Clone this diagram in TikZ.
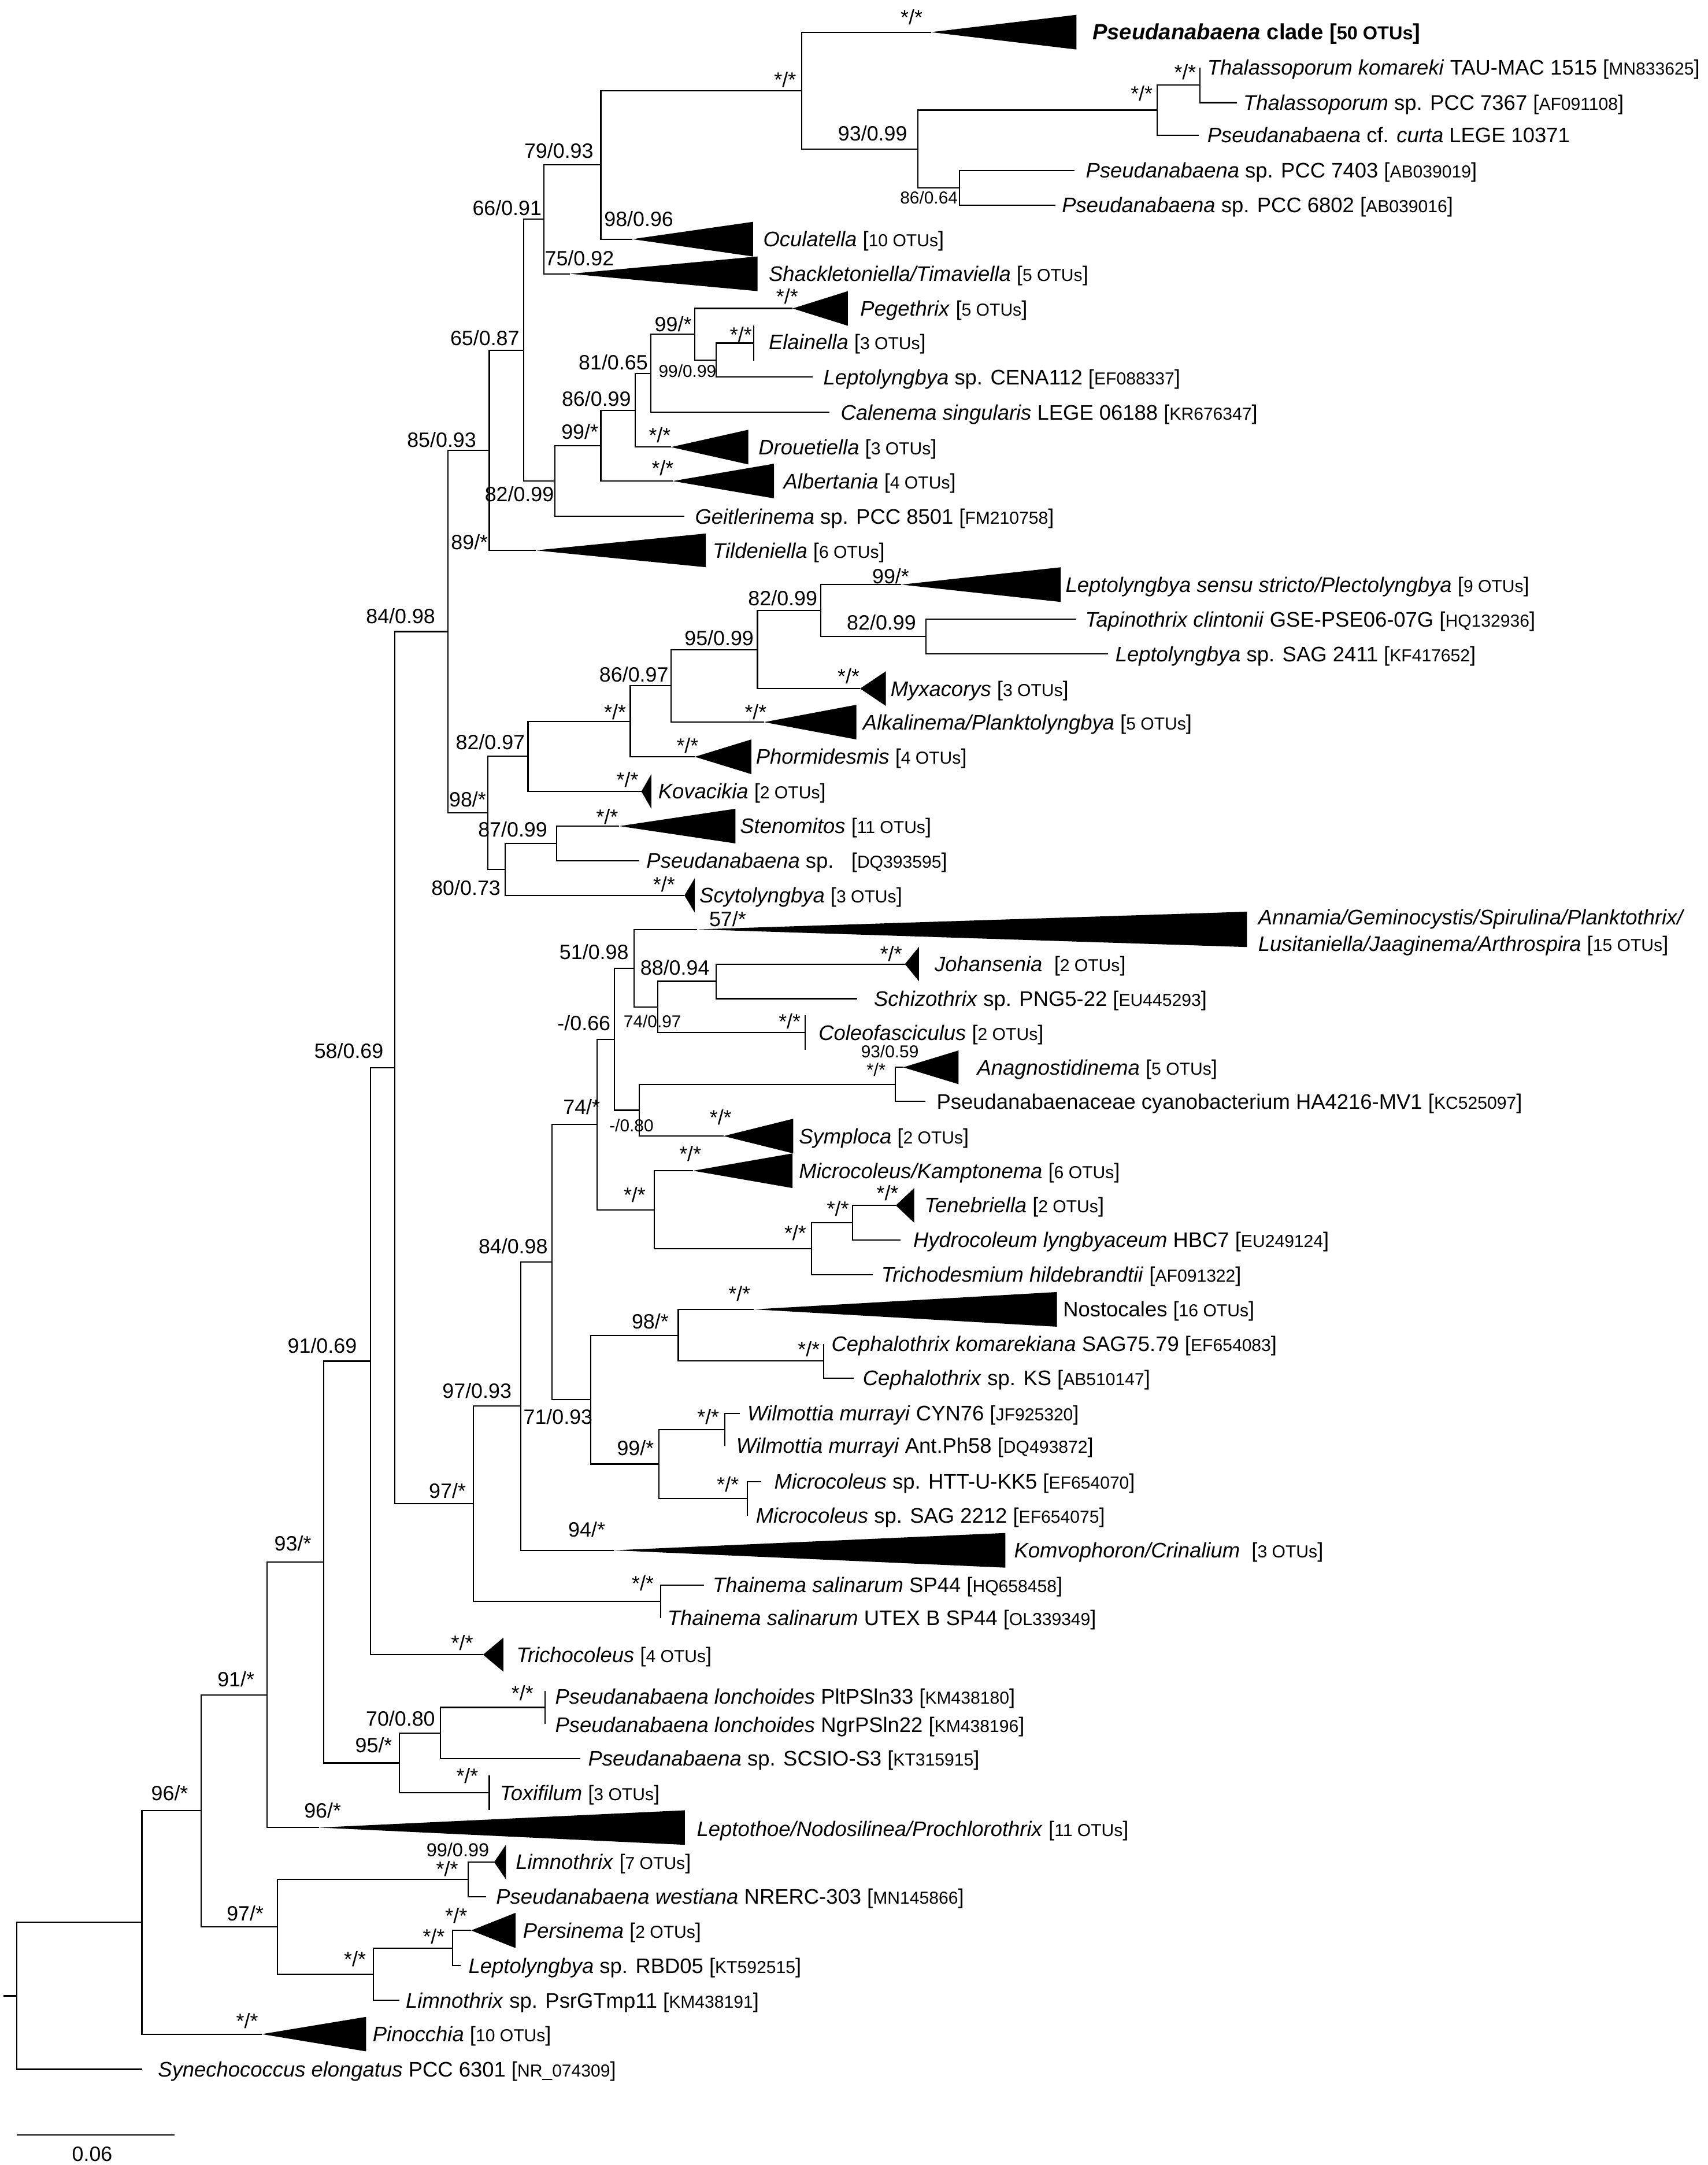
\documentclass[tikz,border=0pt]{standalone}
\usepackage{fontspec}
\setmainfont{Liberation Sans}
\newcommand{\accn}[1]{{\fontsize{12.6}{14}\selectfont #1}}
\newcommand{\cladetri}[4]{\fill[cfill] (#1) -- (#2,#3-#4) -- (#2,#3+#4) -- cycle;}
\newcommand{\twokids}[3]{\draw[br] (#1) |- (#2) (#1) |- (#3);}
\tikzset{
  br/.style={line width=0.9pt},
  cfill/.style={fill=black},
  leaflab/.style={anchor=base west, inner sep=0pt, yshift=-5.4pt, font=\fontsize{15.25}{18}\selectfont},
  bs/.style={inner sep=0pt, font=\fontsize{15}{18}\selectfont},
  bss/.style={inner sep=0pt, font=\fontsize{12.5}{15}\selectfont},
  ast/.style={inner sep=0pt, font=\fontsize{15}{16}\selectfont},
}
\begin{document}
\begin{tikzpicture}[x=1pt,y=-1pt]
\useasboundingbox (0,0) rectangle (1237,1568);
% ---------- leaves ----------
\coordinate (pseudClade) at (674.3,23.3);
\coordinate (thalKom) at (869.2,48.9);
\coordinate (thalSp) at (896,74.3);
\coordinate (curta) at (868.4,97.9);
\coordinate (pcc7403) at (778.4,123.5);
\coordinate (pcc6802) at (764.5,148.6);
\coordinate (oculatella) at (457.9,173.2);
\coordinate (shackleton) at (413,198.3);
\coordinate (pegethrix) at (574.1,223.4);
\coordinate (elainella) at (546,248.5);
\coordinate (cena) at (588.8,273.1);
\coordinate (calenema) at (600.8,298.7);
\coordinate (drouetiella) at (486,323.8);
\coordinate (albertania) at (487.3,348.4);
\coordinate (geitler) at (495.8,374);
\coordinate (tildeniella) at (388,398.6);
\coordinate (leptoSS) at (652.9,423.4);
\coordinate (tapino) at (779.7,448.5);
\coordinate (sag2411) at (802.5,473.6);
\coordinate (myxa) at (623,498.7);
\coordinate (alkali) at (553.5,523);
\coordinate (phormi) at (503.3,548.1);
\coordinate (kovac) at (464.6,573.2);
\coordinate (steno) at (448.6,598.3);
\coordinate (pseudDQ) at (463.2,623.4);
\coordinate (scyto) at (495.8,648.5);
\coordinate (annamia) at (505,673.1);
\coordinate (johan) at (655.5,698.2);
\coordinate (schizo) at (620.8,723.3);
\coordinate (coleo) at (583.4,747.9);
\coordinate (anagno) at (654.2,773);
\coordinate (haMV) at (670.3,797.7);
\coordinate (symplo) at (524.1,822.8);
\coordinate (microK) at (502,847.9);
\coordinate (tenebr) at (648.9,873);
\coordinate (hydro) at (652.3,898.1);
\coordinate (tricho) at (632.1,923.2);
\coordinate (nosto) at (546,948.3);
\coordinate (cephK) at (596.8,973.4);
\coordinate (cephS) at (618.2,998);
\coordinate (wilC) at (535.9,1023.6);
\coordinate (wilA) at (525.2,1047);
\coordinate (micH) at (551.4,1073.1);
\coordinate (micS) at (541.2,1097.7);
\coordinate (komvo) at (444.5,1122.8);
\coordinate (thaS) at (510,1147.9);
\coordinate (thaU) at (478.7,1171.7);
\coordinate (trichoc) at (349.9,1198.4);
\coordinate (lonP) at (394.8,1224.7);
\coordinate (lonN) at (394.8,1248.5);
\coordinate (scsio) at (420.5,1273.5);
\coordinate (toxi) at (354.4,1298.5);
\coordinate (leptot) at (231,1323.6);
\coordinate (limno) at (357.9,1348.6);
\coordinate (westi) at (352,1373.6);
\coordinate (persi) at (341.3,1398.1);
\coordinate (rbd) at (333.9,1423.6);
\coordinate (psrGT) at (289.3,1448.7);
\coordinate (pinoc) at (189.6,1473.2);
\coordinate (synec) at (102.8,1498.7);
% ---------- internal nodes ----------
\coordinate (nThal) at (869.2,61.6);
\coordinate (n838) at (838.1,79.75);
\coordinate (n86a) at (695.1,136.05);
\coordinate (n93) at (664.9,107.9);
\coordinate (nTop) at (580.8,65.6);
\coordinate (nB) at (435.2,119.4);
\coordinate (n79) at (394,158.85);
\coordinate (nEla) at (518.8,260.8);
\coordinate (nPeg) at (503.3,242.1);
\coordinate (n81) at (471.3,270.4);
\coordinate (n86b) at (460,297.1);
\coordinate (n99b) at (435.2,322.75);
\coordinate (n82a) at (402,348.4);
\coordinate (n66) at (379.3,253.6);
\coordinate (n65) at (354.4,326.1);
\coordinate (nTap) at (670.8,461.05);
\coordinate (n82b) at (594.7,442.2);
\coordinate (n95) at (548.7,470.45);
\coordinate (n86c) at (486,496.7);
\coordinate (nSS) at (456.6,522.4);
\coordinate (n82c) at (382.5,547.8);
\coordinate (n87) at (403.3,610.85);
\coordinate (n80) at (365.9,629.7);
\coordinate (n98a) at (353.4,588.75);
\coordinate (n85) at (324.5,457.4);
\coordinate (nJoh) at (518.8,710.75);
\coordinate (n74b) at (476.6,729.3);
\coordinate (n51) at (459.2,701.2);
\coordinate (n93b) at (648.6,785.35);
\coordinate (n080) at (463.2,804.1);
\coordinate (n066) at (445.1,752.65);
\coordinate (nTen) at (617.6,885.55);
\coordinate (nTri) at (588,904.4);
\coordinate (nMK) at (473.9,876.15);
\coordinate (n74a) at (432.5,814.4);
\coordinate (nCeph) at (596.8,985.7);
\coordinate (n98b) at (491.3,967);
\coordinate (nWil) at (525.2,1035.3);
\coordinate (nMic) at (541.2,1085.4);
\coordinate (n99c) at (477.4,1060.35);
\coordinate (n71) at (428,1013.7);
\coordinate (n84b) at (399.8,914.05);
\coordinate (n97a) at (377.4,1018.4);
\coordinate (nTha) at (478.7,1159.8);
\coordinate (n97b) at (342.9,1089.1);
\coordinate (n84a) at (285.8,773.25);
\coordinate (n58) at (268.4,985.8);
\coordinate (nLon) at (394.8,1236.6);
\coordinate (n70) at (319.2,1255.05);
\coordinate (n95b) at (289.3,1276.8);
\coordinate (n91a) at (234.5,1131.3);
\coordinate (n93c) at (193.4,1227.45);
\coordinate (nLim) at (339.2,1361.1);
\coordinate (nPers) at (328,1410.85);
\coordinate (nPL) at (270.6,1429.8);
\coordinate (n97c) at (200.9,1395.45);
\coordinate (n91b) at (145.6,1311.45);
\coordinate (n96) at (102.8,1392.3);
\coordinate (root) at (12,1445.5);
\coordinate (stub) at (2.7,1445.5);
% ---------- branches ----------
\twokids{nThal}{thalKom}{thalSp}
\twokids{n838}{nThal}{curta}
\twokids{n86a}{pcc7403}{pcc6802}
\twokids{n93}{n838}{n86a}
\twokids{nTop}{pseudClade}{n93}
\twokids{nB}{nTop}{oculatella}
\twokids{n79}{nB}{shackleton}
\twokids{nEla}{elainella}{cena}
\twokids{nPeg}{pegethrix}{nEla}
\twokids{n81}{nPeg}{calenema}
\twokids{n86b}{n81}{drouetiella}
\twokids{n99b}{n86b}{albertania}
\twokids{n82a}{n99b}{geitler}
\twokids{n66}{n79}{n82a}
\twokids{n65}{n66}{tildeniella}
\twokids{nTap}{tapino}{sag2411}
\twokids{n82b}{leptoSS}{nTap}
\twokids{n95}{n82b}{myxa}
\twokids{n86c}{n95}{alkali}
\twokids{nSS}{n86c}{phormi}
\twokids{n82c}{nSS}{kovac}
\twokids{n87}{steno}{pseudDQ}
\twokids{n80}{n87}{scyto}
\twokids{n98a}{n82c}{n80}
\twokids{n85}{n65}{n98a}
\twokids{nJoh}{johan}{schizo}
\twokids{n74b}{nJoh}{coleo}
\twokids{n51}{annamia}{n74b}
\twokids{n93b}{anagno}{haMV}
\twokids{n080}{n93b}{symplo}
\twokids{n066}{n51}{n080}
\twokids{nTen}{tenebr}{hydro}
\twokids{nTri}{nTen}{tricho}
\twokids{nMK}{microK}{nTri}
\twokids{n74a}{n066}{nMK}
\twokids{nCeph}{cephK}{cephS}
\twokids{n98b}{nosto}{nCeph}
\twokids{nWil}{wilC}{wilA}
\twokids{nMic}{micH}{micS}
\twokids{n99c}{nWil}{nMic}
\twokids{n71}{n98b}{n99c}
\twokids{n84b}{n74a}{n71}
\twokids{n97a}{n84b}{komvo}
\twokids{nTha}{thaS}{thaU}
\twokids{n97b}{n97a}{nTha}
\twokids{n84a}{n85}{n97b}
\twokids{n58}{n84a}{trichoc}
\twokids{nLon}{lonP}{lonN}
\twokids{n70}{nLon}{scsio}
\twokids{n95b}{n70}{toxi}
\twokids{n91a}{n58}{n95b}
\twokids{n93c}{n91a}{leptot}
\twokids{nLim}{limno}{westi}
\twokids{nPers}{persi}{rbd}
\twokids{nPL}{nPers}{psrGT}
\twokids{n97c}{nLim}{nPL}
\twokids{n91b}{n93c}{n97c}
\twokids{n96}{n91b}{pinoc}
\twokids{root}{n96}{synec}
\draw[br] (stub) -- (root);
% collapsed ticks
\draw[br] (elainella) ++(0,-12.6) -- ++(0,25.2);
\draw[br] (coleo) ++(0,-12.6) -- ++(0,25.2);
\draw[br] (toxi) ++(0,-12.6) -- ++(0,25.2);
% ---------- collapsed clades ----------
\cladetri{pseudClade}{779.7}{23.3}{12.55}
\cladetri{oculatella}{545.5}{173.2}{12.55}
\cladetri{shackleton}{548.7}{198.3}{12.55}
\cladetri{pegethrix}{614.2}{223.4}{12.55}
\cladetri{drouetiella}{542}{323.8}{12.55}
\cladetri{albertania}{560.7}{348.4}{12.55}
\cladetri{tildeniella}{511.3}{398.6}{12.2}
\cladetri{leptoSS}{768.3}{423.4}{12.55}
\cladetri{myxa}{641.7}{498.7}{12.55}
\cladetri{alkali}{620.3}{523}{12.55}
\cladetri{phormi}{544.2}{548.1}{12.55}
\cladetri{kovac}{471.8}{573.2}{12.55}
\cladetri{steno}{532.7}{598.3}{12.55}
\cladetri{scyto}{503.3}{648.5}{12.55}
\cladetri{annamia}{903.3}{673.1}{12.8}
\cladetri{johan}{665.7}{698.2}{12.55}
\cladetri{anagno}{694.3}{773}{12.2}
\cladetri{symplo}{574.6}{822.8}{12.55}
\cladetri{microK}{574.1}{847.9}{12.55}
\cladetri{tenebr}{662.2}{873}{12.55}
\cladetri{nosto}{765.6}{948.3}{12.55}
\cladetri{komvo}{728.2}{1122.8}{12.55}
\cladetri{trichoc}{364.6}{1198.4}{12.3}
\cladetri{leptot}{496.1}{1323.6}{12.5}
\cladetri{limno}{366.5}{1348.6}{12.55}
\cladetri{persi}{373.4}{1398.1}{12.75}
\cladetri{pinoc}{265.2}{1473.2}{12.5}
% ---------- leaf labels ----------
\node[leaflab, font={\fontsize{16}{18}\selectfont\bfseries}] (tPseud) at (791.2,23.3) {\textit{Pseudanabaena} clade [{\fontsize{13.6}{15}\selectfont 50 OTUs}]};
\node[leaflab] (tThalK) at (874.4,48.9) {\textit{Thalassoporum komareki} TAU-MAC 1515 [\accn{MN833625}]};
\node[leaflab] (tThalS) at (900.4,74.3) {\textit{Thalassoporum} sp. PCC 7367 [\accn{AF091108}]};
\node[leaflab] (tCurta) at (874.4,97.9) {\textit{Pseudanabaena} cf. \textit{curta} LEGE 10371};
\node[leaflab] (t7403) at (786.4,123.5) {\textit{Pseudanabaena} sp. PCC 7403 [\accn{AB039019}]};
\node[leaflab] (t6802) at (769.1,148.6) {\textit{Pseudanabaena} sp. PCC 6802 [\accn{AB039016}]};
\node[leaflab] (tOcul) at (552.7,173.2) {\textit{Oculatella} [\accn{10 OTUs}]};
\node[leaflab] (tShack) at (556.7,198.3) {\textit{Shackletoniella/Timaviella} [\accn{5 OTUs}]};
\node[leaflab] (tPeg) at (623,223.4) {\textit{Pegethrix} [\accn{5 OTUs}]};
\node[leaflab] (tEla) at (556.7,247.5) {\textit{Elainella} [\accn{3 OTUs}]};
\node[leaflab] (tCena) at (596.3,273.1) {\textit{Leptolyngbya} sp. CENA112 [\accn{EF088337}]};
\node[leaflab] (tCalen) at (608.8,298.7) {\textit{Calenema singularis} LEGE 06188 [\accn{KR676347}]};
\node[leaflab] (tDrou) at (549.3,323.8) {\textit{Drouetiella} [\accn{3 OTUs}]};
\node[leaflab] (tAlb) at (567.4,348.4) {\textit{Albertania} [\accn{4 OTUs}]};
\node[leaflab] (tGeit) at (503.3,374) {\textit{Geitlerinema} sp. PCC 8501 [\accn{FM210758}]};
\node[leaflab] (tTild) at (516.1,399) {\textit{Tildeniella} [\accn{6 OTUs}]};
\node[leaflab] (tLepSS) at (771.7,423.4) {\textit{Leptolyngbya sensu stricto/Plectolyngbya} [\accn{9 OTUs}]};
\node[leaflab] (tTapi) at (785.9,448.5) {\textit{Tapinothrix clintonii} GSE-PSE06-07G [\accn{HQ132936}]};
\node[leaflab] (tSag) at (807.8,473.6) {\textit{Leptolyngbya} sp. SAG 2411 [\accn{KF417652}]};
\node[leaflab] (tMyxa) at (644.9,498.7) {\textit{Myxacorys} [\accn{3 OTUs}]};
\node[leaflab] (tAlka) at (624.8,523) {\textit{Alkalinema/Planktolyngbya} [\accn{5 OTUs}]};
\node[leaflab] (tPhor) at (547.4,548.1) {\textit{Phormidesmis} [\accn{4 OTUs}]};
\node[leaflab] (tKova) at (476.6,573.2) {\textit{Kovacikia} [\accn{2 OTUs}]};
\node[leaflab] (tSteno) at (535.9,598.3) {\textit{Stenomitos} [\accn{11 OTUs}]};
\node[leaflab] (tPsDQ) at (468.1,623.4) {\textit{Pseudanabaena} sp.\ \ \ [\accn{DQ393595}]};
\node[leaflab] (tScyto) at (506.5,648.5) {\textit{Scytolyngbya} [\accn{3 OTUs}]};
\node[inner sep=0pt, anchor=west, align=left, font=\fontsize{15.25}{19}\selectfont] (tAnna) at (911.2,675.3) {\textit{Annamia/Geminocystis/Spirulina/Planktothrix/}\\\textit{Lusitaniella/Jaaginema/Arthrospira} [\accn{15 OTUs}]};
\node[leaflab] (tJoh) at (676.9,698.2) {\textit{Johansenia}\ \ [\accn{2 OTUs}]};
\node[leaflab] (tSchizo) at (632.9,723.3) {\textit{Schizothrix} sp. PNG5-22 [\accn{EU445293}]};
\node[leaflab] (tColeo) at (592.8,747.9) {\textit{Coleofasciculus} [\accn{2 OTUs}]};
\node[leaflab] (tAnag) at (707.6,773) {\textit{Anagnostidinema} [\accn{5 OTUs}]};
\node[leaflab] (tHA) at (678.3,797.7) {Pseudanabaenaceae cyanobacterium HA4216-MV1 [\accn{KC525097}]};
\node[leaflab] (tSymp) at (578.6,822.8) {\textit{Symploca} [\accn{2 OTUs}]};
\node[leaflab] (tMicK) at (578.6,847.9) {\textit{Microcoleus/Kamptonema} [\accn{6 OTUs}]};
\node[leaflab] (tTene) at (669.4,873) {\textit{Tenebriella} [\accn{2 OTUs}]};
\node[leaflab] (tHydro) at (661.4,898.1) {\textit{Hydrocoleum lyngbyaceum} HBC7 [\accn{EU249124}]};
\node[leaflab] (tTrich) at (638.2,923.2) {\textit{Trichodesmium hildebrandtii} [\accn{AF091322}]};
\node[leaflab] (tNosto) at (769.9,948.3) {Nostocales [\accn{16 OTUs}]};
\node[leaflab] (tCephK) at (602.1,973.4) {\textit{Cephalothrix komarekiana} SAG75.79 [\accn{EF654083}]};
\node[leaflab] (tCephS) at (624.8,998) {\textit{Cephalothrix} sp. KS [\accn{AB510147}]};
\node[leaflab] (tWilC) at (541.2,1023.6) {\textit{Wilmottia murrayi} CYN76 [\accn{JF925320}]};
\node[leaflab] (tWilA) at (533.2,1047) {\textit{Wilmottia murrayi} Ant.Ph58 [\accn{DQ493872}]};
\node[leaflab] (tMicH) at (560.7,1073.1) {\textit{Microcoleus} sp. HTT-U-KK5 [\accn{EF654070}]};
\node[leaflab] (tMicS) at (547.4,1097.7) {\textit{Microcoleus} sp. SAG 2212 [\accn{EF654075}]};
\node[leaflab] (tKomvo) at (734.4,1122.8) {\textit{Komvophoron/Crinalium}\ \ [\accn{3 OTUs}]};
\node[leaflab] (tThaS) at (516.1,1147.9) {\textit{Thainema salinarum} SP44 [\accn{HQ658458}]};
\node[leaflab] (tThaU) at (483.3,1171.7) {\textit{Thainema salinarum} UTEX B SP44 [\accn{OL339349}]};
\node[leaflab] (tTrichoc) at (373.9,1198.4) {\textit{Trichocoleus} [\accn{4 OTUs}]};
\node[leaflab] (tLonP) at (402,1228.5) {\textit{Pseudanabaena lonchoides} PltPSln33 [\accn{KM438180}]};
\node[leaflab] (tLonN) at (402,1249) {\textit{Pseudanabaena lonchoides} NgrPSln22 [\accn{KM438196}]};
\node[leaflab] (tScsio) at (425.9,1273.5) {\textit{Pseudanabaena} sp. SCSIO-S3 [\accn{KT315915}]};
\node[leaflab] (tToxi) at (361.9,1298.5) {\textit{Toxifilum} [\accn{3 OTUs}]};
\node[leaflab] (tLeptot) at (504.6,1324.5) {\textit{Leptothoe/Nodosilinea/Prochlorothrix} [\accn{11 OTUs}]};
\node[leaflab] (tLimno) at (373.4,1348.6) {\textit{Limnothrix} [\accn{7 OTUs}]};
\node[leaflab] (tWest) at (359.2,1373.6) {\textit{Pseudanabaena westiana} NRERC-303 [\accn{MN145866}]};
\node[leaflab] (tPersi) at (378.7,1398.1) {\textit{Persinema} [\accn{2 OTUs}]};
\node[leaflab] (tRbd) at (339.2,1423.6) {\textit{Leptolyngbya} sp. RBD05 [\accn{KT592515}]};
\node[leaflab] (tPsr) at (293.8,1448.7) {\textit{Limnothrix} sp. PsrGTmp11 [\accn{KM438191}]};
\node[leaflab] (tPino) at (269.8,1473.2) {\textit{Pinocchia} [\accn{10 OTUs}]};
\node[leaflab] (tSyn) at (114.3,1498.7) {\textit{Synechococcus elongatus} PCC 6301 [\accn{NR\_074309}]};
% ---------- support values ----------
\node[bs] (s1) at (404.8,109.2) {79/0.93};
\node[bs] (s2) at (367.3,150.6) {66/0.91};
\node[bs] (s3) at (632.1,96.6) {93/0.99};
\node[bs] (s4) at (462.7,158.6) {98/0.96};
\node[bs] (s5) at (419.7,187) {75/0.92};
\node[bs] (s6) at (351.2,244.7) {65/0.87};
\node[bs] (s7) at (319.9,318.3) {85/0.93};
\node[bs] (s8) at (376.2,357.7) {82/0.99};
\node[bs] (s9) at (340.1,392.8) {89/*};
\node[bs] (s10) at (432,288.7) {86/0.99};
\node[bs] (s11) at (420,312.5) {99/*};
\node[bs] (s12) at (444.2,262.3) {81/0.65};
\node[bs] (s13) at (487.6,234.7) {99/*};
\node[bs] (s14) at (290.2,446) {84/0.98};
\node[bs] (s15) at (645.2,417.1) {99/*};
\node[bs] (s16) at (567,433.4) {82/0.99};
\node[bs] (s17) at (638.5,451) {82/0.99};
\node[bs] (s18) at (520.9,462.3) {95/0.99};
\node[bs] (s19) at (459.2,488.6) {86/0.97};
\node[bs] (s20) at (355.2,537.6) {82/0.97};
\node[bs] (s21) at (338.7,579) {98/*};
\node[bs] (s22) at (371.4,600.8) {87/0.99};
\node[bs] (s23) at (337.5,643) {80/0.73};
\node[bs] (s24) at (527.1,665.6) {57/*};
\node[bs] (s25) at (430.3,689.4) {51/0.98};
\node[bs] (s26) at (488.9,700.7) {88/0.94};
\node[bs] (s27) at (423,741) {-/0.66};
\node[bs] (s28) at (252.7,761) {58/0.69};
\node[bs] (s29) at (421.3,801.5) {74/*};
\node[bs] (s30) at (371.7,902.4) {84/0.98};
\node[bs] (s31) at (471,957.1) {98/*};
\node[bs] (s32) at (233.4,974.7) {91/0.69};
\node[bs] (s33) at (345.5,1007.3) {97/0.93};
\node[bs] (s34) at (404.2,1026.1) {71/0.93};
\node[bs] (s35) at (460.3,1048.7) {99/*};
\node[bs] (s36) at (324.1,1079.6) {97/*};
\node[bs] (s37) at (425,1107.7) {94/*};
\node[bs] (s38) at (212.1,1117.7) {93/*};
\node[bs] (s39) at (170.9,1216) {91/*};
\node[bs] (s40) at (290.1,1244.7) {70/0.80};
\node[bs] (s41) at (270.7,1264) {95/*};
\node[bs] (s42) at (233.7,1311.1) {96/*};
\node[bs] (s43) at (122.9,1298.5) {96/*};
\node[bs] (s44) at (177.6,1385.6) {97/*};
\node[bss] (s45) at (672.9,143.1) {86/0.64};
\node[bss] (s46) at (498,268.6) {99/0.99};
\node[bss] (s47) at (472.6,739.6) {74/0.97};
\node[bss] (s48) at (644.6,761.5) {93/0.59};
\node[bss] (s49) at (457.4,815.3) {-/0.80};
\node[bss, font=\fontsize{13.6}{16}\selectfont] (s50) at (331.6,1339.8) {99/0.99};
% asterisk supports
\node[ast] (a1) at (568.7,57.7) {*/*};
\node[ast] (a2) at (660.3,12.5) {*/*};
\node[ast] (a3) at (858.5,52.2) {*/*};
\node[ast] (a4) at (827,67.8) {*/*};
\node[ast] (a5) at (570.2,214.6) {*/*};
\node[ast] (a6) at (536.7,242.2) {*/*};
\node[ast] (a7) at (477.9,315) {*/*};
\node[ast] (a8) at (480,338.9) {*/*};
\node[ast] (a9) at (614.7,489.9) {*/*};
\node[ast] (a10) at (445.5,515.5) {*/*};
\node[ast] (a11) at (547.4,515.5) {*/*};
\node[ast] (a12) at (498,540.1) {*/*};
\node[ast] (a13) at (454.5,564.7) {*/*};
\node[ast] (a14) at (439.8,591.5) {*/*};
\node[ast] (a15) at (481,640.5) {*/*};
\node[ast] (a16) at (645.5,690.7) {*/*};
\node[ast] (a17) at (572,739.6) {*/*};
\node[ast, font=\fontsize{13}{15}\selectfont] (a18) at (634.6,774.8) {*/*};
\node[ast] (a19) at (522,809) {*/*};
\node[ast] (a20) at (500,835.4) {*/*};
\node[ast] (a21) at (459.7,865.5) {*/*};
\node[ast] (a22) at (642.9,864.2) {*/*};
\node[ast] (a23) at (606.9,875.5) {*/*};
\node[ast] (a24) at (576.1,893.1) {*/*};
\node[ast] (a25) at (535.6,937) {*/*};
\node[ast] (a26) at (585.9,977.2) {*/*};
\node[ast] (a27) at (513,1026.1) {*/*};
\node[ast] (a28) at (527.3,1075.1) {*/*};
\node[ast] (a29) at (465.6,1146.6) {*/*};
\node[ast] (a30) at (334.8,1189.7) {*/*};
\node[ast] (a31) at (378.4,1226) {*/*};
\node[ast] (a32) at (338.5,1286) {*/*};
\node[ast] (a33) at (323.9,1353.6) {*/*};
\node[ast] (a34) at (330.5,1387.4) {*/*};
\node[ast] (a35) at (314.2,1402.4) {*/*};
\node[ast] (a36) at (257.1,1418.6) {*/*};
\node[ast] (a37) at (179,1463.7) {*/*};
% ---------- scale bar ----------
\coordinate (sbL) at (12,1546.3);
\coordinate (sbR) at (126.3,1546.3);
\draw[br] (sbL) -- (sbR);
\node[bs] (sbLab) at (66.8,1560) {0.06};
\end{tikzpicture}
\end{document}
